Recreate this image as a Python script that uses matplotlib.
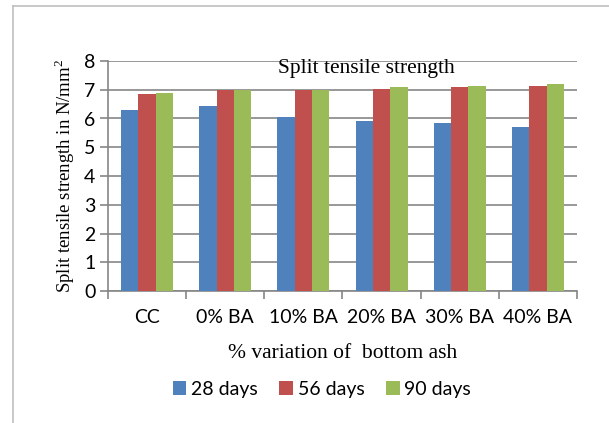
import numpy as np
import matplotlib
matplotlib.use("Agg")
import matplotlib.pyplot as plt
from matplotlib.lines import Line2D

plt.rcParams["mathtext.fontset"] = "custom"
plt.rcParams["mathtext.rm"] = "Liberation Serif"

categories = ["CC", "0% BA", "10% BA", "20% BA", "30% BA", "40% BA"]
days_28 = [6.28, 6.45, 6.06, 5.90, 5.83, 5.69]
days_56 = [6.84, 6.99, 6.99, 7.01, 7.11, 7.13]
days_90 = [6.89, 7.00, 7.00, 7.08, 7.13, 7.20]
series_names = ["28 days", "56 days", "90 days"]
colors = ["#4F81BD", "#C0504D", "#9BBB59"]

fig = plt.figure(figsize=(6.09, 4.23), dpi=100, facecolor="white")
ax = fig.add_axes([108/609, 1-291/423, (577-108)/609, (291-61)/423])

x = np.arange(len(categories))
w = 0.222
for i, (vals, name, c) in enumerate(zip([days_28, days_56, days_90], series_names, colors)):
    ax.bar(x + (i-1)*w, vals, width=w, color=c, label=name, zorder=3)

ax.set_xlim(-0.5, len(categories)-0.5)
ax.set_ylim(0, 8)
ax.set_yticks(range(0, 9))
ax.yaxis.grid(True, color="#868686", linewidth=1.2, zorder=0)
ax.set_axisbelow(True)

for s in ["top", "right"]:
    ax.spines[s].set_visible(False)
for s in ["left", "bottom"]:
    ax.spines[s].set_color("#868686")
    ax.spines[s].set_linewidth(1.2)

tickfont = "Lato"
ax.set_xticks(x)
ax.set_xticklabels(categories, fontsize=14, family=tickfont)
ax.tick_params(axis="x", which="major", length=0, pad=13)
ax.set_xticks(np.arange(-0.5, len(categories)), minor=True)
ax.tick_params(axis="x", which="minor", length=6, color="#868686", width=1.2)
ax.tick_params(axis="y", length=6, color="#868686", width=1.2, pad=3)
for lab in ax.get_yticklabels():
    lab.set_fontsize(14)
    lab.set_family(tickfont)

ax.text(366/609, 1-68/423, "Split tensile strength", transform=fig.transFigure,
        ha="center", va="center", fontsize=15.5, family="Liberation Serif")
ax.set_ylabel("Split tensile strength in N/mm$^2$", fontsize=13.5, family="Liberation Serif", labelpad=5)
ax.set_xlabel("% variation of  bottom ash", fontsize=15.5, family="Liberation Serif", labelpad=13)

fig.legend(loc="center", bbox_to_anchor=(322/609, 1-389/423), ncol=3, frameon=False,
           handlelength=0.7, handleheight=0.7, handletextpad=0.25, columnspacing=1.1,
           prop={"family": tickfont, "size": 14})

# light frame around the chart area
fig.add_artist(Line2D([13/609, 13/609], [0, 1-6/423], color="#bfbfbf", linewidth=1.2))
fig.add_artist(Line2D([13/609, 1], [1-6/423, 1-6/423], color="#bfbfbf", linewidth=1.2))

fig.savefig("out.png", dpi=100)
